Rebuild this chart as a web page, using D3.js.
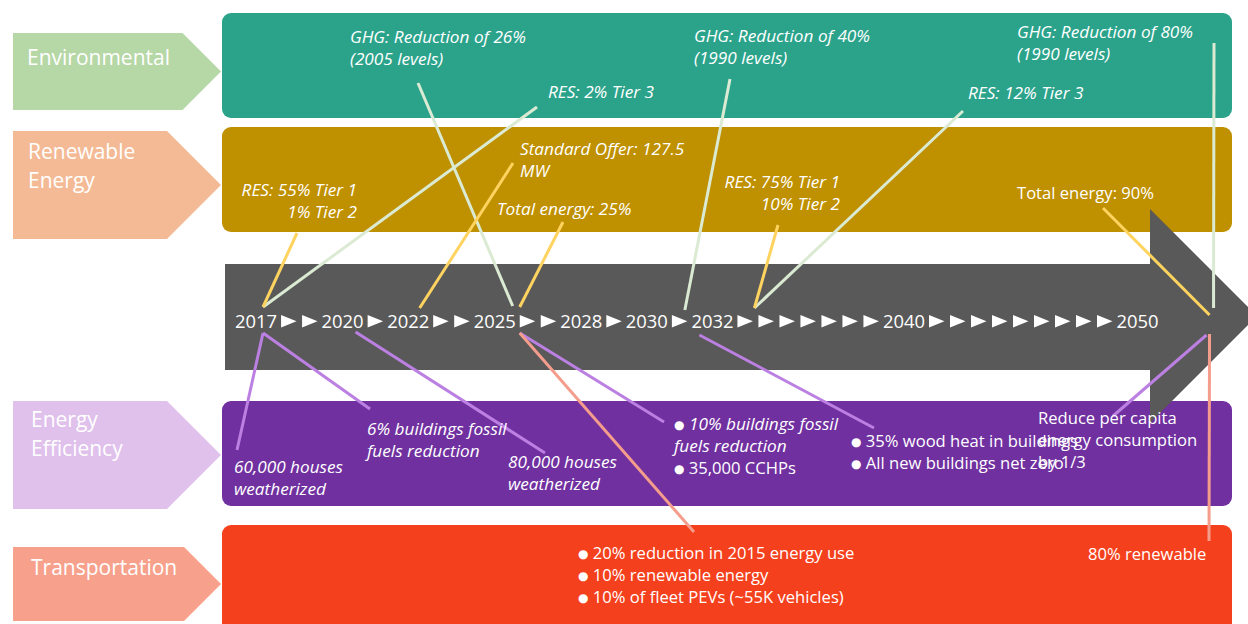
<!DOCTYPE html>
<html>
<head>
<meta charset="utf-8">
<script src="https://cdn.jsdelivr.net/npm/d3@7"></script>
<style>
  body { margin: 0; background: #fff; }
  svg text { font-family: "Open Sans", sans-serif; fill: #fff; }
</style>
</head>
<body>
<svg id="svg1" width="1248" height="624"></svg>
<script>
// rows
var categories = ["Environmental", "Renewable Energy", "Energy Efficiency", "Transportation"];
var boxColors = ["#2ba38b", "#bf9000", "#7030a0", "#f5401d"];
var tagColors = ["#b6d7a6", "#f4ba95", "#dfc1ec", "#f7a18c"];
var lineColors = ["#dbead3", "#ffd35f", "#bb80e2", "#f59d8c"];

// timeline: years and the number of ► marks after each one
var years = [2017, 2020, 2022, 2025, 2028, 2030, 2032, 2040, 2050];
var steps = [2, 1, 2, 2, 1, 1, 7, 9];

// milestones per row
var environmental = [
  {year: 2025, text: ["GHG: Reduction of 26%", "(2005 levels)"], italic: true},
  {year: 2017, text: ["RES: 2% Tier 3"], italic: true},
  {year: 2030, text: ["GHG: Reduction of 40%", "(1990 levels)"], italic: true},
  {year: 2032, text: ["RES: 12% Tier 3"], italic: true},
  {year: 2050, text: ["GHG: Reduction of 80%", "(1990 levels)"], italic: true}
];
var renewable = [
  {year: 2017, text: ["RES: 55% Tier 1", "1% Tier 2"], italic: true},
  {year: 2022, text: ["Standard Offer: 127.5", "MW"], italic: true},
  {year: 2025, text: ["Total energy: 25%"], italic: true},
  {year: 2032, text: ["RES: 75% Tier 1", "10% Tier 2"], italic: true},
  {year: 2050, text: ["Total energy: 90%"], italic: false}
];
var efficiency = [
  {year: 2017, text: ["60,000 houses", "weatherized"], italic: true},
  {year: 2017, text: ["6% buildings fossil", "fuels reduction"], italic: true},
  {year: 2020, text: ["80,000 houses", "weatherized"], italic: true},
  {year: 2025, text: ["● 10% buildings fossil", "fuels reduction", "● 35,000 CCHPs"], italic: [true, true, false]},
  {year: 2032, text: ["● 35% wood heat in buildings", "● All new buildings net zero"], italic: false},
  {year: 2050, text: ["Reduce per capita", "energy consumption", "by 1/3"], italic: false}
];
var transportation = [
  {year: 2025, text: ["● 20% reduction in 2015 energy use", "● 10% renewable energy", "● 10% of fleet PEVs (~55K vehicles)"], italic: false},
  {year: 2050, text: ["80% renewable"], italic: false}
];

// where each note sits (x,y), where its leader starts (lx,ly),
// and where it meets the timeline (dx from year centre, ty)
var envPos = [
  {x: 350, y: 43, lx: 418, ly: 83, dx: 18, ty: 306},
  {x: 548, y: 98, lx: 537, ly: 107, dx: 7, ty: 307},
  {x: 694, y: 42, lx: 730, ly: 79, dx: 38, ty: 310},
  {x: 968, y: 99, lx: 963, ly: 111, dx: 42, ty: 308},
  {x: 1017, y: 38, lx: 1214, ly: 43, dx: 76, ty: 308}
];
var renPos = [
  {x: 357, y: 196, anchor: "end", lx: 297, ly: 233, dx: 7, ty: 307},
  {x: 520, y: 155, lx: 513, ly: 163, dx: 11.5, ty: 308},
  {x: 497, y: 215, lx: 563, ly: 222, dx: 25, ty: 307},
  {x: 840, y: 188, anchor: "end", lx: 778, ly: 225, dx: 42, ty: 308},
  {x: 1017, y: 199, lx: 1103, ly: 208, dx: 72, ty: 315}
];
var effPos = [
  {x: 234, y: 473, lx: 237, ly: 450, dx: 7, ty: 333},
  {x: 367, y: 435, lx: 370, ly: 409, dx: 7, ty: 333},
  {x: 508, y: 468, lx: 545, ly: 453, dx: 13, ty: 332},
  {x: 674, y: 430, lx: 664, ly: 422, dx: 25, ty: 333},
  {x: 851, y: 447, lx: 874, ly: 428, dx: -13, ty: 335},
  {x: 1038, y: 424, lx: 1113, ly: 416, dx: 69, ty: 335}
];
var traPos = [
  {x: 578, y: 559, lx: 694, ly: 532, dx: 25, ty: 333},
  {x: 1088, y: 560, lx: 1209, ly: 541, dx: 72, ty: 334}
];

var rows = [
  {notes: environmental, pos: envPos, box: [13, 118], tag: [33, 110], label: [[27, 65]]},
  {notes: renewable, pos: renPos, box: [127, 232], tag: [131, 239], label: [[28, 159], [28, 188]]},
  {notes: efficiency, pos: effPos, box: [401, 506], tag: [401, 509], label: [[31, 427], [31, 456]]},
  {notes: transportation, pos: traPos, box: [525, 650], tag: [547, 621], label: [[31, 575]]}
];

var svg = d3.select("#svg1");
var boxColor = d3.scaleOrdinal().domain(categories).range(boxColors);
var tagColor = d3.scaleOrdinal().domain(categories).range(tagColors);
var lineColor = d3.scaleOrdinal().domain(categories).range(lineColors);

var gTags = svg.append("g"),
    gBoxes = svg.append("g"),
    gTime = svg.append("g"),
    gLines = svg.append("g"),
    gText = svg.append("g");

// category tags (chevrons) and row boxes
rows.forEach(function(r, i) {
  var cat = categories[i];
  var y0 = r.tag[0], y1 = r.tag[1], h = y1 - y0, tip = 221;
  gTags.append("path")
    .attr("d", "M13," + y0 + "L" + (tip - h / 2) + "," + y0 + "L" + tip + "," + (y0 + h / 2) +
               "L" + (tip - h / 2) + "," + y1 + "L13," + y1 + "Z")
    .attr("fill", tagColor(cat));
  var words = cat.split(" ");
  if (r.label.length == 1) words = [cat];
  words.forEach(function(w, j) {
    gTags.append("text")
      .attr("x", r.label[j][0]).attr("y", r.label[j][1])
      .style("font-size", "21px")
      .text(w);
  });
  gBoxes.append("rect")
    .attr("x", 222).attr("y", r.box[0])
    .attr("width", 1010).attr("height", r.box[1] - r.box[0])
    .attr("rx", 9).attr("fill", boxColor(cat));
});

// the big grey arrow
gTime.append("path")
  .attr("d", "M225,264L1150,264L1150,209L1257,316L1150,423L1150,370L225,370Z")
  .attr("fill", "#595959");

// years and ► marks, laid out one after another
var yearPos = {};
var cx = 235, base = 328, triW = 15.5;
years.forEach(function(y, i) {
  var t = gTime.append("text")
    .attr("x", cx).attr("y", base)
    .style("font-size", "18.4px")
    .text(y);
  var w = t.node().getComputedTextLength();
  yearPos[y] = cx + w / 2;
  cx += w + 4;
  if (i < steps.length) {
    for (var k = 0; k < steps[i]; k++) {
      gTime.append("path")
        .attr("d", "M" + cx + "," + (base - 13) + "L" + (cx + triW) + "," + (base - 6.75) + "L" + cx + "," + (base - 0.5) + "Z")
        .attr("fill", "#fff");
      cx += triW + (k < steps[i] - 1 ? 5.5 : 4);
    }
  }
});

// notes and leader lines
var lh = 22;
rows.forEach(function(r, i) {
  var cat = categories[i];
  r.notes.forEach(function(n, j) {
    var p = r.pos[j];
    gLines.append("line")
      .attr("x1", p.lx).attr("y1", p.ly)
      .attr("x2", yearPos[n.year] + p.dx).attr("y2", p.ty)
      .attr("stroke", lineColor(cat))
      .attr("stroke-width", 3);

    var t = gText.append("text")
      .attr("text-anchor", p.anchor || "start");
    n.text.forEach(function(line, k) {
      var it = Array.isArray(n.italic) ? n.italic[k] : n.italic;
      var ts = t.append("tspan")
        .attr("x", p.x).attr("y", p.y + k * lh)
        .style("font-style", it ? "italic" : "normal")
        .style("font-size", it ? "17.2px" : "16.6px");
      var m = line.match(/^● (.*)$/);
      if (m) {
        ts.append("tspan")
          .attr("dy", -1)
          .style("font-family", "DejaVu Sans")
          .style("font-size", "12px")
          .style("font-style", "normal")
          .text("●");
        ts.append("tspan").attr("dy", 1).text(" " + m[1]);
      } else {
        ts.text(line);
      }
    });
  });
});
</script>
</body>
</html>
